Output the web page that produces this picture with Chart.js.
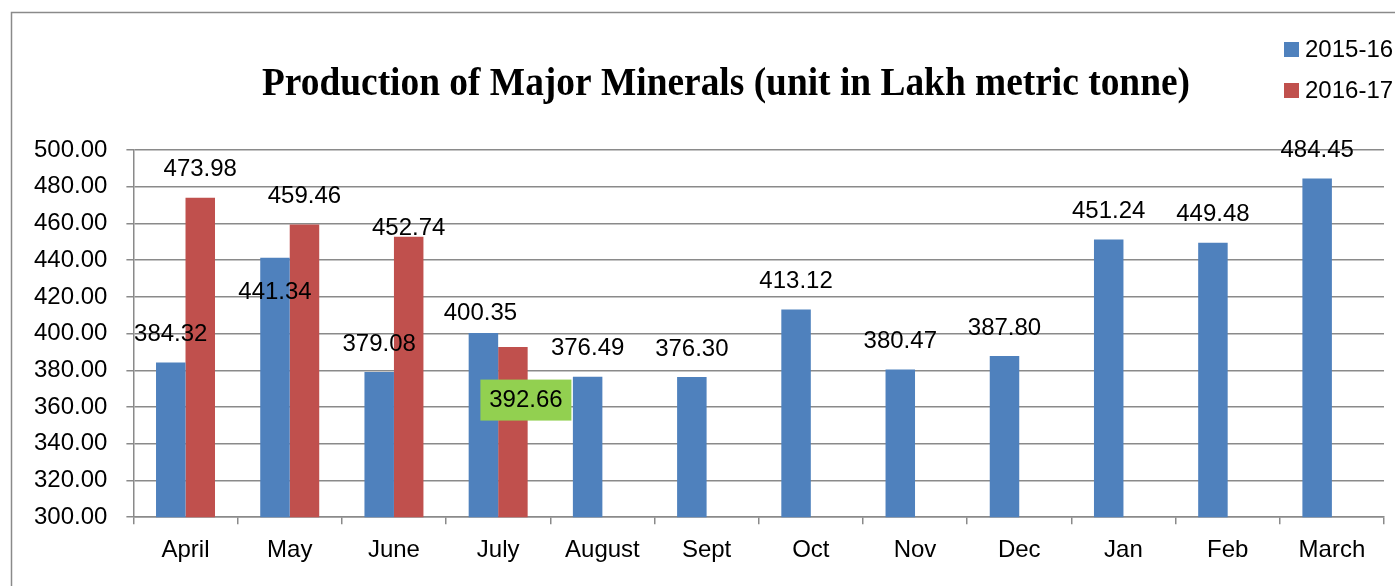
<!DOCTYPE html>
<html>
<head>
<meta charset="utf-8">
<script src="https://cdn.jsdelivr.net/npm/chart.js@4.4.1/dist/chart.umd.min.js"></script>
<style>
  html, body { margin: 0; padding: 0; background: #ffffff; }
  #wrap { width: 1395px; height: 586px; position: relative; }
</style>
</head>
<body>
<div id="wrap"><canvas id="c" width="1395" height="586"></canvas></div>
<script>
// ---- data ----
const months = ['April', 'May', 'June', 'July', 'August', 'Sept', 'Oct', 'Nov', 'Dec', 'Jan', 'Feb', 'March'];
const prod2015_16 = [384.32, 441.34, 379.08, 400.35, 376.49, 376.30, 413.12, 380.47, 387.80, 451.24, 449.48, 484.45];
const prod2016_17 = [473.98, 459.46, 452.74, 392.66, null, null, null, null, null, null, null, null];
const seriesNames = ['2015-16', '2016-17'];
const titleText = 'Production of Major Minerals (unit in Lakh metric tonne)';
const yMin = 300, yMax = 500, yStep = 20;

// ---- style ----
const BLUE = '#4F81BD', RED = '#C0504D', GREEN = '#92D050';
const GRID = '#8a8a8a';
const SANS = '"Liberation Sans", Arial, sans-serif';
const SERIF = '"Liberation Serif", "Times New Roman", serif';

// label placement tweaks (pixel offsets relative to bar top-centre), keyed by dataset/index
const labelTweak = {
  '0-1': { dx: 0, dy: 35 },
  '0-3': { dx: -3, dy: -20 },
  '1-2': { dx: 0, dy: -8 },
  '1-3': { dx: 13, dy: 53, box: GREEN }
};

const decorPlugin = {
  id: 'decor',
  beforeDraw(chart) {
    const ctx = chart.ctx;
    ctx.save();
    ctx.fillStyle = '#ffffff';
    ctx.fillRect(0, 0, chart.width, chart.height);
    ctx.strokeStyle = '#8a8a8a';
    ctx.lineWidth = 1.5;
    ctx.strokeRect(11.5, 12.5, chart.width + 20, chart.height + 20);
    ctx.restore();
  },
  afterDatasetsDraw(chart) {
    const ctx = chart.ctx;
    ctx.save();
    // data labels
    ctx.font = '24px ' + SANS;
    ctx.textAlign = 'center';
    ctx.textBaseline = 'middle';
    chart.data.datasets.forEach((ds, di) => {
      const meta = chart.getDatasetMeta(di);
      meta.data.forEach((bar, i) => {
        const v = ds.data[i];
        if (v === null || v === undefined) return;
        const t = labelTweak[di + '-' + i] || { dx: 0, dy: -28 };
        const x = bar.x + t.dx, y = bar.y + t.dy;
        const txt = v.toFixed(2);
        if (t.box) {
          ctx.fillStyle = t.box;
          ctx.fillRect(x - 45.5, y - 20.5, 91, 41);
        }
        ctx.fillStyle = '#000000';
        ctx.fillText(txt, x, y);
      });
    });
    // title
    ctx.save();
    ctx.font = 'bold 40px ' + SERIF;
    ctx.textBaseline = 'alphabetic';
    ctx.textAlign = 'center';
    ctx.translate(726, 95);
    ctx.scale(0.935, 1);
    ctx.fillStyle = '#000000';
    ctx.fillText(titleText, 0, 0);
    ctx.restore();
    // legend
    ctx.font = '24px ' + SANS;
    ctx.textAlign = 'left';
    ctx.textBaseline = 'middle';
    chart.data.datasets.forEach((ds, di) => {
      const cy = 49.5 + di * 41;
      ctx.fillStyle = ds.backgroundColor;
      ctx.fillRect(1284, cy - 7.5, 15, 15);
      ctx.fillStyle = '#000000';
      ctx.fillText(ds.label, 1305, cy + 1);
    });
    ctx.restore();
  }
};

new Chart(document.getElementById('c'), {
  type: 'bar',
  data: {
    labels: months,
    datasets: [
      { label: seriesNames[0], data: prod2015_16, backgroundColor: BLUE, borderWidth: 0 },
      { label: seriesNames[1], data: prod2016_17, backgroundColor: RED, borderWidth: 0 }
    ]
  },
  options: {
    responsive: false,
    animation: false,
    events: [],
    categoryPercentage: 0.566,
    barPercentage: 1.0,
    layout: { padding: { left: 15, right: 11, top: 150, bottom: 9 } },
    plugins: {
      legend: { display: false },
      title: { display: false },
      tooltip: { enabled: false }
    },
    scales: {
      x: {
        grid: { display: true, drawOnChartArea: false, drawTicks: true, tickLength: 7, color: GRID, lineWidth: 1.5, offset: true },
        border: { display: true, color: GRID, width: 1.5 },
        ticks: { color: '#000000', font: { family: SANS, size: 24 }, padding: 12, maxRotation: 0, autoSkip: false }
      },
      y: {
        min: yMin, max: yMax,
        grid: { color: GRID, lineWidth: 1.5, tickLength: 7, drawTicks: true },
        border: { display: true, color: GRID, width: 1.5 },
        ticks: {
          stepSize: yStep, color: '#000000', padding: 19,
          font: { family: SANS, size: 24 },
          callback: (v) => Number(v).toFixed(2)
        }
      }
    }
  },
  plugins: [decorPlugin]
});
</script>
</body>
</html>
